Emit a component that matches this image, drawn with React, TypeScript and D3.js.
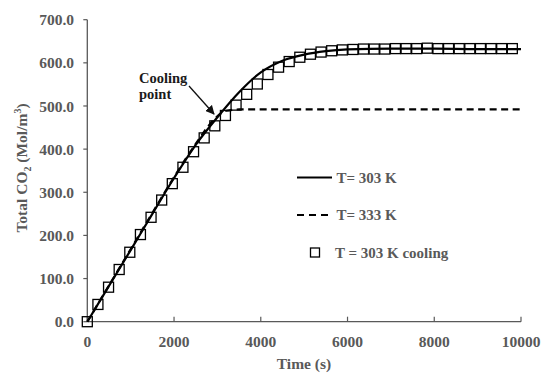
import React from "react";
import * as d3 from "d3";

// T = 303 K (solid)
const t303 = [0, 500, 1000, 1500, 2000, 2500, 3000, 3500, 4000, 4500, 5000, 5500, 6000, 7000, 8000, 9000, 10000];
const v303 = [0, 83, 166, 250, 333, 410, 474, 532, 578, 605, 619, 627, 631, 633, 633, 632, 632];

// T = 333 K (dashed)
const t333 = [0, 500, 1000, 1500, 2000, 2500, 2900, 3200, 3500, 6000, 10000];
const v333 = [0, 84, 168, 252, 335, 412, 466, 489, 492, 492, 492];

// T = 303 K cooling (squares)
const tCool = [0, 245, 490, 735, 980, 1225, 1470, 1715, 1960, 2205, 2450, 2695, 2940, 3185, 3430, 3675, 3920, 4165, 4410, 4655, 4900, 5145, 5390, 5635, 5880, 6125, 6370, 6615, 6860, 7105, 7350, 7595, 7840, 8085, 8330, 8575, 8820, 9065, 9310, 9555, 9800];
const vCool = [0, 40, 80, 121, 161, 202, 242, 282, 320, 358, 394, 426, 454, 478, 502, 527, 551, 573, 590, 603, 613, 620, 625, 628, 630, 631, 632, 632, 632, 633, 633, 633, 634, 633, 633, 633, 633, 633, 633, 633, 633];

const xTicks = [0, 2000, 4000, 6000, 8000, 10000];
const yTicks = [0, 100, 200, 300, 400, 500, 600, 700];

const legendItems = ["T= 303 K", "T= 333 K", "T = 303 K cooling"];

export default function App() {
  const W = 550, H = 380;
  const x = d3.scaleLinear().domain([0, 10000]).range([87.3, 521]);
  const y = d3.scaleLinear().domain([0, 700]).range([321.7, 19.7]);
  const gray = "#595959";
  const font = "'Liberation Serif', 'Times New Roman', serif";

  const line = d3
    .line<[number, number]>()
    .x((d) => x(d[0]))
    .y((d) => y(d[1]))
    .curve(d3.curveMonotoneX);

  const solid = line(t303.map((t, i) => [t, v303[i]] as [number, number])) || "";
  const dashed = line(t333.map((t, i) => [t, v333[i]] as [number, number])) || "";

  const sq = 10;

  return (
    <svg
      width={W}
      height={H}
      style={{ position: "fixed", left: 0, top: 0, background: "#fff" }}
      fontFamily={font}
    >
      <defs>
        <marker id="ah" viewBox="0 0 10 10" refX="9" refY="5" markerWidth="7" markerHeight="7" orient="auto">
          <path d="M0,0 L10,5 L0,10 z" fill="#111" />
        </marker>
      </defs>
      <rect width={W} height={H} fill="#fff" />

      {/* axes */}
      <line x1={x(0)} x2={x(0)} y1={y(700)} y2={y(0)} stroke={gray} strokeWidth={1.3} />
      <line x1={x(0)} x2={x(10000)} y1={y(0)} y2={y(0)} stroke={gray} strokeWidth={1.3} />
      {yTicks.map((v) => (
        <g key={"y" + v}>
          <line x1={x(0) - 4} x2={x(0)} y1={y(v)} y2={y(v)} stroke={gray} strokeWidth={1.2} />
          <text x={74} y={y(v)} dy="0.36em" textAnchor="end" fontSize={15.5} fontWeight="bold" fill={gray}>
            {v.toFixed(1)}
          </text>
        </g>
      ))}
      {xTicks.map((t) => (
        <g key={"x" + t}>
          <line x1={x(t)} x2={x(t)} y1={y(0)} y2={y(0) - 5} stroke={gray} strokeWidth={1.2} />
          <text x={x(t)} y={346.5} textAnchor="middle" fontSize={15.5} fontWeight="bold" fill={gray}>
            {t}
          </text>
        </g>
      ))}

      <text x={304} y={369} textAnchor="middle" fontSize={15.5} fontWeight="bold" fill={gray}>
        Time (s)
      </text>
      <text
        transform="translate(27,168) rotate(-90)"
        textAnchor="middle"
        fontSize={15.5}
        fontWeight="bold"
        fill={gray}
      >
        Total CO<tspan fontSize={10} dy={4}>2</tspan>
        <tspan dy={-4}> (Mol/m</tspan>
        <tspan fontSize={10} dy={-6}>3</tspan>
        <tspan dy={6}>)</tspan>
      </text>

      {/* series */}
      <path d={dashed} fill="none" stroke="#000" strokeWidth={2.2} strokeDasharray="7,4.5" />
      <path d={solid} fill="none" stroke="#000" strokeWidth={2.2} />
      {tCool.map((t, i) => (
        <rect
          key={"s" + i}
          x={x(t) - sq / 2}
          y={y(vCool[i]) - sq / 2}
          width={sq}
          height={sq}
          fill="none"
          stroke="#000"
          strokeWidth={1.3}
        />
      ))}

      {/* annotation */}
      <text x={139} y={83} fontSize={14.5} fontWeight="bold" fill="#1a1a1a">Cooling</text>
      <text x={139} y={99} fontSize={14.5} fontWeight="bold" fill="#1a1a1a">point</text>
      <line x1={189} y1={86} x2={214} y2={114} stroke="#111" strokeWidth={1.3} markerEnd="url(#ah)" />

      {/* legend */}
      <line x1={297} x2={332} y1={177.5} y2={177.5} stroke="#000" strokeWidth={2.2} />
      <text x={336.5} y={182.8} fontSize={15} fontWeight="bold" fill={gray}>{legendItems[0]}</text>
      <line x1={297} x2={332} y1={215} y2={215} stroke="#000" strokeWidth={2.2} strokeDasharray="7,5" />
      <text x={336.5} y={220.3} fontSize={15} fontWeight="bold" fill={gray}>{legendItems[1]}</text>
      <rect x={315 - 4.5} y={252.5 - 4.5} width={9} height={9} fill="none" stroke="#000" strokeWidth={1.3} />
      <text x={335} y={257.5} fontSize={15} fontWeight="bold" fill={gray}>{legendItems[2]}</text>
    </svg>
  );
}
